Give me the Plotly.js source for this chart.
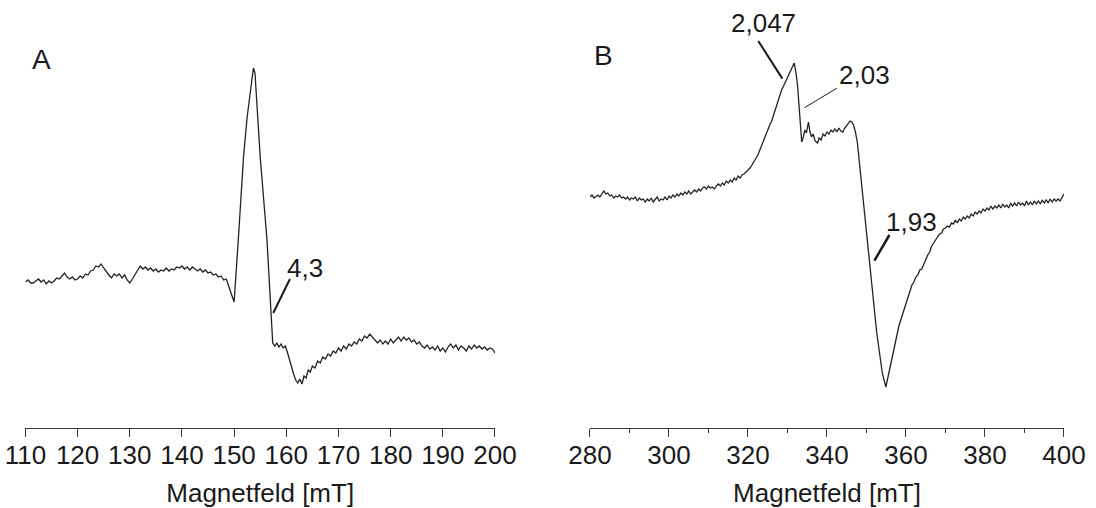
<!DOCTYPE html>
<html>
<head>
<meta charset="utf-8">
<script src="https://cdn.plot.ly/plotly-3.0.1.min.js"></script>
<style>html,body{margin:0;padding:0;background:#fff;}#chart{width:1096px;height:508px;}</style>
</head>
<body>
<div id="chart"></div>
<script>
// Panel A: magnetic field (mT) and EPR signal (arbitrary units)
const fieldA = [110,110.5,111,111.5,112,112.5,113,113.5,114,114.5,115,115.5,116,116.5,117,117.5,118,118.5,119,119.5,
120,120.5,121,121.5,122,122.5,123,123.5,124,124.5,125,125.5,126,126.5,127,127.5,128,128.5,129,129.5,
130,130.5,131,131.5,132,132.5,133,133.5,134,134.5,135,135.5,136,136.5,137,137.5,138,138.5,139,139.5,
140,140.5,141,141.5,142,142.5,143,143.5,144,144.5,145,145.5,146,146.5,147,147.5,148,148.5,149,149.5,
150,150.8,151.8,152.5,153.1,153.7,154.0,155.0,156.3,157.1,157.4,
157.8,158.2,158.6,159,159.4,159.8,160.2,160.6,161,161.4,161.8,162.2,162.6,163,163.4,163.8,164.2,164.6,
165,165.5,166,166.5,167,167.5,168,168.5,169,169.5,170,170.5,171,171.5,172,172.5,173,173.5,174,174.5,
175,175.5,176,176.5,177,177.5,178,178.5,179,179.5,180,180.5,181,181.5,182,182.5,183,183.5,184,184.5,
185,185.5,186,186.5,187,187.5,188,188.5,189,189.5,190,190.5,191,191.5,192,192.5,193,193.5,194,194.5,
195,195.5,196,196.5,197,197.5,198,198.5,199,199.5,200];
const signalA = [0,2,-1,-1,1,3,0,2,-2,1,-1,1,4,3,6,9,5,3,5,2,
3,6,4,8,7,11,12,16,15,18,14,10,7,4,8,6,8,4,7,2,
-1,3,7,12,16,13,15,12,14,11,13,10,12,11,14,11,13,12,15,14,
16,13,15,12,15,13,11,13,10,12,9,10,7,8,5,6,2,3,-4,-12,
-20,42,125,165,192,214,209,125,42,-25,-61,
-64,-61,-65,-62,-66,-64,-70,-78,-84,-92,-98,-101,-97,-102,-94,-96,-88,-90,
-84,-86,-79,-81,-75,-77,-72,-74,-69,-71,-66,-69,-64,-67,-62,-64,-60,-62,-57,-59,
-54,-56,-52,-55,-58,-61,-58,-62,-59,-62,-57,-61,-58,-55,-59,-55,-58,-56,-60,-58,
-62,-60,-64,-66,-63,-67,-65,-68,-64,-69,-66,-70,-65,-62,-66,-63,-68,-64,-66,-69,
-64,-67,-63,-66,-64,-67,-65,-68,-66,-67,-71];

// Panel B
const fieldB = [280,280.5,281,281.5,282,282.5,283,283.5,284,284.5,285,285.5,286,286.5,287,287.5,288,288.5,289,289.5,
290,290.5,291,291.5,292,292.5,293,293.5,294,294.5,295,295.5,296,296.5,297,297.5,298,298.5,299,299.5,
300,300.5,301,301.5,302,302.5,303,303.5,304,304.5,305,305.5,306,306.5,307,307.5,308,308.5,309,309.5,
310,310.5,311,311.5,312,312.5,313,313.5,314,314.5,315,315.5,316,316.5,317,317.5,318,318.5,319,319.5,
320,320.5,321,321.5,322,322.5,323,323.5,324,324.5,325,325.5,326,326.5,327,327.5,328,328.5,329,329.5,
330,330.5,331,331.7,332.2,332.6,333,333.3,333.6,334,334.4,334.8,335.3,335.7,336.1,336.5,337,337.6,338,338.5,
339,339.5,340,340.5,341,341.5,342,342.5,343,343.5,344,344.5,345,345.5,345.8,346.3,346.7,347.2,347.7,348.5,
349.2,350.9,352.6,354,354.9,355.5,356.2,356.8,357.5,358.2,359,359.5,
360,360.5,361,361.5,362,362.5,363,363.5,364,364.5,365,365.5,366,366.5,367,367.5,368,368.5,369,369.5,
370,370.5,371,371.5,372,372.5,373,373.5,374,374.5,375,375.5,376,376.5,377,377.5,378,378.5,379,379.5,
380,380.5,381,381.5,382,382.5,383,383.5,384,384.5,385,385.5,386,386.5,387,387.5,388,388.5,389,389.5,
390,390.5,391,391.5,392,392.5,393,393.5,394,394.5,395,395.5,396,396.5,397,397.5,398,398.5,399,399.5,400];
const signalB = [1,3,0,2,3,1,4,7,4,5,2,3,0,2,1,3,0,1,-1,1,
-2,0,-1,1,-3,0,-2,-1,-4,-1,-3,0,-4,-2,1,-3,-1,-2,1,-2,
2,0,3,1,4,2,5,3,6,4,7,4,6,8,6,9,7,10,11,9,
12,10,11,9,12,14,12,15,13,17,15,18,16,20,18,22,20,23,24,26,
27,30,33,36,40,43,48,53,58,64,68,73,77,83,90,96,103,108,112,116,
120,124,128,135,124,110,88,70,56,61,68,65,76,66,61,64,57,55,60,58,
64,62,66,64,68,66,69,66,70,67,66,70,72,75,77,76,73,66,55,24,
-9,-75,-135,-175,-189,-178,-165,-155,-143,-128,-118,-112,
-104,-98,-94,-87,-84,-79,-77,-72,-71,-66,-62,-57,-54,-48,-45,-42,-40,-36,-35,-31,
-30,-28,-29,-25,-26,-22,-25,-21,-23,-19,-21,-18,-20,-16,-18,-14,-16,-13,-15,-11,
-13,-10,-12,-8,-11,-8,-10,-7,-10,-6,-9,-7,-10,-5,-8,-5,-8,-4,-7,-5,
-8,-3,-7,-4,-7,-3,-6,-3,-6,-2,-5,-2,-5,-1,-4,-1,-3,-1,-3,0,4];

const ticksA = [110,120,130,140,150,160,170,180,190,200];
const ticksB = [280,300,320,340,360,380,400];
const minorTicksB = [290,310,330,350,370,390];
const axisTitle = 'Magnetfeld [mT]';
const panelLabels = ['A','B'];
const gLabels = ['4,3','2,047','2,03','1,93'];

const FONT = 'Liberation Sans, Arial, sans-serif';
const lineStyle = {color:'#222222', width:1.3};

const traces = [
  {x:fieldA, y:signalA, xaxis:'x', yaxis:'y', mode:'lines', line:lineStyle, hoverinfo:'skip'},
  {x:fieldB, y:signalB, xaxis:'x2', yaxis:'y2', mode:'lines', line:lineStyle, hoverinfo:'skip'}
];

const xbase = {
  showgrid:false, zeroline:false, showline:true, linecolor:'#3a3a3a', linewidth:1,
  ticks:'outside', ticklen:8, tickwidth:1, tickcolor:'#3a3a3a',
  tickfont:{family:FONT, size:26, color:'#1a1a1a'},
  ticklabelstandoff:-4,
  tickmode:'array', fixedrange:true
};

const layout = {
  width:1096, height:508,
  margin:{l:0, r:0, t:0, b:80},
  paper_bgcolor:'#ffffff', plot_bgcolor:'#ffffff',
  showlegend:false,
  xaxis: Object.assign({}, xbase, {domain:[0.02318,0.45164], range:[110,200], tickvals:ticksA,
    title:{text:axisTitle, font:{family:FONT, size:26, color:'#1a1a1a'}, standoff:17}}),
  yaxis:{visible:false, range:[-146,282], fixedrange:true},
  xaxis2: Object.assign({}, xbase, {domain:[0.53832,0.97080], range:[280,400], tickvals:ticksB, anchor:'y2',
    minor:{tickvals:minorTicksB, ticks:'outside', ticklen:4, tickcolor:'#3a3a3a', showgrid:false},
    title:{text:axisTitle, font:{family:FONT, size:26, color:'#1a1a1a'}, standoff:17}}),
  yaxis2:{visible:false, range:[-230,198], anchor:'x2', fixedrange:true},
  annotations:[
    {xref:'paper', yref:'paper', x:0.0378, y:0.862, text:panelLabels[0], showarrow:false, xanchor:'center', yanchor:'middle', font:{family:FONT, size:28, color:'#1a1a1a'}},
    {xref:'paper', yref:'paper', x:0.5502, y:0.871, text:panelLabels[1], showarrow:false, xanchor:'center', yanchor:'middle', font:{family:FONT, size:28, color:'#1a1a1a'}},
    {xref:'x', yref:'y', x:163.6, y:14, text:gLabels[0], showarrow:false, xanchor:'center', yanchor:'middle', font:{family:FONT, size:26, color:'#1a1a1a'}},
    {xref:'x2', yref:'y2', x:323.9, y:175, text:gLabels[1], showarrow:false, xanchor:'center', yanchor:'middle', font:{family:FONT, size:26, color:'#1a1a1a'}},
    {xref:'x2', yref:'y2', x:349.4, y:123, text:gLabels[2], showarrow:false, xanchor:'center', yanchor:'middle', font:{family:FONT, size:26, color:'#1a1a1a'}},
    {xref:'x2', yref:'y2', x:361.3, y:-24, text:gLabels[3], showarrow:false, xanchor:'center', yanchor:'middle', font:{family:FONT, size:26, color:'#1a1a1a'}}
  ],
  shapes:[
    {type:'line', xref:'x', yref:'y', x0:160.7, y0:3, x1:157.5, y1:-31, line:{color:'#1a1a1a', width:2}},
    {type:'line', xref:'x2', yref:'y2', x0:322.6, y0:157, x1:328.7, y1:119.4, line:{color:'#1a1a1a', width:2}},
    {type:'line', xref:'x2', yref:'y2', x0:342.5, y0:109.8, x1:334.3, y1:90.3, line:{color:'#1a1a1a', width:1}},
    {type:'line', xref:'x2', yref:'y2', x0:355.8, y0:-37, x1:352.0, y1:-62.7, line:{color:'#1a1a1a', width:2.5}}
  ]
};

Plotly.newPlot('chart', traces, layout, {displayModeBar:false, staticPlot:true});
</script>
</body>
</html>
